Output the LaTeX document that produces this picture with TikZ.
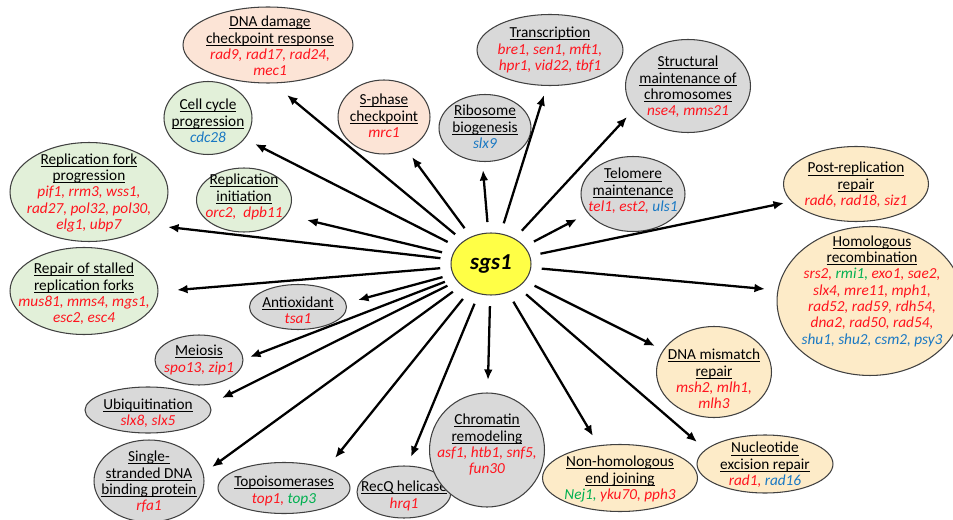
\documentclass[tikz,border=0pt]{standalone}
\usepackage{fontspec}
\setmainfont{Carlito}
\usetikzlibrary{shapes.geometric,arrows.meta}

\definecolor{salmonfill}{RGB}{252,228,214}
\definecolor{greenfill}{RGB}{226,240,217}
\definecolor{grayfill}{RGB}{217,217,217}
\definecolor{creamfill}{RGB}{253,235,200}
\definecolor{sgsyellow}{RGB}{255,255,70}
\definecolor{genered}{RGB}{255,20,30}
\definecolor{geneblue}{RGB}{25,120,195}
\definecolor{genegreen}{RGB}{0,176,80}

% word-style underline at a fixed depth
\newcommand{\hdl}[1]{\setbox0\hbox{#1}\rlap{\rule[-1.4pt]{\wd0}{0.5pt}}\box0}
\newcommand{\gred}[1]{\textcolor{genered}{\textit{#1}}}
\newcommand{\gblue}[1]{\textcolor{geneblue}{\textit{#1}}}
\newcommand{\ggreen}[1]{\textcolor{genegreen}{\textit{#1}}}

\begin{document}
\begin{tikzpicture}[x=0.02cm,y=-0.02cm,
  bubble/.style={ellipse,draw=black!75,line width=0.6pt,inner sep=0pt},
  txt/.style={align=center,inner sep=0pt,font=\fontsize{8.7}{9.3}\selectfont},
  arr/.style={line width=1.3pt,-{Latex[length=6pt,width=5pt]},shorten <=6pt}]
\useasboundingbox (0,0) rectangle (953,520);
\clip (0,0) rectangle (953,520);

% centre
\node[bubble,fill=sgsyellow,minimum width=1.6cm,minimum height=1.24cm] (sgs1) at (491,264)
  {\fontsize{13}{15}\selectfont\bfseries\itshape sgs1};

% salmon
\node[bubble,fill=salmonfill,minimum width=3.4cm,minimum height=1.52cm] (dnadmg) at (268,45) {};
\node[txt] (dnadmg-t) at (270,46) {\hdl{DNA damage}\\\hdl{checkpoint response}\\\gred{rad9, rad17, rad24,}\\\gred{mec1}};
\node[bubble,fill=salmonfill,minimum width=1.84cm,minimum height=1.48cm] (sphase) at (384,117) {};
\node[txt] (sphase-t) at (384,116) {\hdl{S-phase}\\\hdl{checkpoint}\\\gred{mrc1}};

% green
\node[bubble,fill=greenfill,minimum width=1.76cm,minimum height=1.46cm] (cellcyc) at (208,118) {};
\node[txt] (cellcyc-t) at (208,121) {\hdl{Cell cycle}\\\hdl{progression}\\\gblue{cdc28}};
\node[bubble,fill=greenfill,minimum width=3.16cm,minimum height=1.98cm] (forkprog) at (89,192) {};
\node[txt] (forkprog-t) at (89,193) {\hdl{Replication fork}\\\hdl{progression}\\\gred{pif1, rrm3, wss1,}\\\gred{rad27, pol32, pol30,}\\\gred{elg1, ubp7}};
\node[bubble,fill=greenfill,minimum width=1.9cm,minimum height=1.28cm] (repinit) at (244,200) {};
\node[txt] (repinit-t) at (244,197) {\hdl{Replication}\\\hdl{initiation}\\\gred{orc2,\ \ dpb11}};
\node[bubble,fill=greenfill,minimum width=2.96cm,minimum height=1.74cm] (stalled) at (84,291) {};
\node[txt] (stalled-t) at (84,294) {\hdl{Repair of stalled}\\\hdl{replication forks}\\\gred{mus81, mms4, mgs1,}\\\gred{esc2, esc4}};

% gray
\node[bubble,fill=grayfill,minimum width=1.94cm,minimum height=0.9cm] (antiox) at (298,307) {};
\node[txt] (antiox-t) at (298,310) {\hdl{Antioxidant}\\\gred{tsa1}};
\node[bubble,fill=grayfill,minimum width=1.76cm,minimum height=1cm] (meiosis) at (199,360) {};
\node[txt] (meiosis-t) at (199,360) {\hdl{Meiosis}\\\gred{spo13, zip1}};
\node[bubble,fill=grayfill,minimum width=2.52cm,minimum height=0.92cm] (ubiq) at (148,410) {};
\node[txt] (ubiq-t) at (148,413) {\hdl{Ubiquitination}\\\gred{slx8, slx5}};
\node[bubble,fill=grayfill,minimum width=2.2cm,minimum height=1.64cm] (ssdna) at (149,481) {};
\node[txt] (ssdna-t) at (149,482) {\hdl{Single-}\\\hdl{stranded DNA}\\\hdl{binding protein}\\\gred{rfa1}};
\node[bubble,fill=grayfill,minimum width=2.64cm,minimum height=1.02cm] (topo) at (284,488) {};
\node[txt] (topo-t) at (284,491) {\hdl{Topoisomerases}\\\gred{top1,} \ggreen{top3}};
\node[bubble,fill=grayfill,minimum width=1.88cm,minimum height=1.04cm] (recq) at (404,492) {};
\node[txt] (recq-t) at (404,496) {\hdl{RecQ helicase}\\\gred{hrq1}};
\node[bubble,fill=grayfill,minimum width=2.3cm,minimum height=2.28cm] (chrom) at (487,450) {};
\node[txt] (chrom-t) at (487,445) {\hdl{Chromatin}\\\hdl{remodeling}\\\gred{asf1, htb1, snf5,}\\\gred{fun30}};
\node[bubble,fill=grayfill,minimum width=2.08cm,minimum height=1.5cm] (telo) at (633,194) {};
\node[txt] (telo-t) at (633,191) {\hdl{Telomere}\\\hdl{maintenance}\\\gred{tel1, est2,} \gblue{uls1}};
\node[bubble,fill=grayfill,minimum width=2.5cm,minimum height=1.86cm] (smc) at (688,86) {};
\node[txt] (smc-t) at (688,87) {\hdl{Structural}\\\hdl{maintenance of}\\\hdl{chromosomes}\\\gred{nse4, mms21}};
\node[bubble,fill=grayfill,minimum width=2.92cm,minimum height=1.42cm] (transc) at (550,50) {};
\node[txt] (transc-t) at (550,50) {\hdl{Transcription}\\\gred{bre1, sen1, mft1,}\\\gred{hpr1, vid22, tbf1}};
\node[bubble,fill=grayfill,minimum width=1.84cm,minimum height=1.34cm] (ribo) at (485,128) {};
\node[txt] (ribo-t) at (485,127) {\hdl{Ribosome}\\\hdl{biogenesis}\\\gblue{slx9}};

% cream
\node[bubble,fill=creamfill,minimum width=3.1cm,minimum height=1.34cm] (nhej) at (620,478) {};
\node[txt] (nhej-t) at (620,479) {\hdl{Non-homologous}\\\hdl{end joining}\\\ggreen{Nej1,} \gred{yku70, pph3}};
\node[bubble,fill=creamfill,minimum width=2.72cm,minimum height=1.16cm] (ner) at (765,464) {};
\node[txt] (ner-t) at (765,465) {\hdl{Nucleotide}\\\hdl{excision repair}\\\gred{rad1,} \gblue{rad16}};
\node[bubble,fill=creamfill,minimum width=2.3cm,minimum height=1.82cm] (mmr) at (714,372) {};
\node[txt] (mmr-t) at (714,379) {\hdl{DNA mismatch}\\\hdl{repair}\\\gred{msh2, mlh1,}\\\gred{mlh3}};
\node[bubble,fill=creamfill,minimum width=3.72cm,minimum height=2.98cm] (hr) at (870,301) {};
\node[txt] (hr-t) at (872,291) {\hdl{Homologous}\\\hdl{recombination}\\\gred{srs2,} \ggreen{rmi1,} \gred{exo1, sae2,}\\\gred{slx4, mre11, mph1,}\\\gred{rad52, rad59, rdh54,}\\\gred{dna2, rad50, rad54,}\\\gblue{shu1, shu2, csm2, psy3}};
\node[bubble,fill=creamfill,minimum width=2.9cm,minimum height=1.5cm] (prr) at (856,184) {};
\node[txt] (prr-t) at (856,185) {\hdl{Post-replication}\\\hdl{repair}\\\gred{rad6, rad18, siz1}};

% arrow tips
\coordinate (tdnadmg) at (287,95);
\coordinate (tcellcyc) at (255,144);
\coordinate (tforkprog) at (168,227);
\coordinate (trepinit) at (307,220);
\coordinate (tstalled) at (177,290);
\coordinate (tantiox) at (358,300);
\coordinate (tmeiosis) at (250,357);
\coordinate (tubiq) at (222,398);
\coordinate (tssdna) at (212,467);
\coordinate (ttopo) at (335,458);
\coordinate (trecq) at (411,457);
\coordinate (tchrom) at (488,380);
\coordinate (tnhej) at (593,436);
\coordinate (tner) at (697,442);
\coordinate (tmmr) at (655,346);
\coordinate (thr) at (765,289);
\coordinate (tprr) at (784,203);
\coordinate (ttelo) at (577,219);
\coordinate (tsmc) at (627,117);
\coordinate (ttransc) at (544,95);
\coordinate (tribo) at (483,170);
\coordinate (tsphase) at (412,157);

\foreach \t in {tdnadmg,tcellcyc,tforkprog,trepinit,tstalled,tantiox,tmeiosis,tubiq,tssdna,ttopo,trecq,tchrom,tnhej,tner,tmmr,thr,tprr,ttelo,tsmc,ttransc,tribo,tsphase}
  \draw[arr] (sgs1) -- (\t);
\end{tikzpicture}
\end{document}
